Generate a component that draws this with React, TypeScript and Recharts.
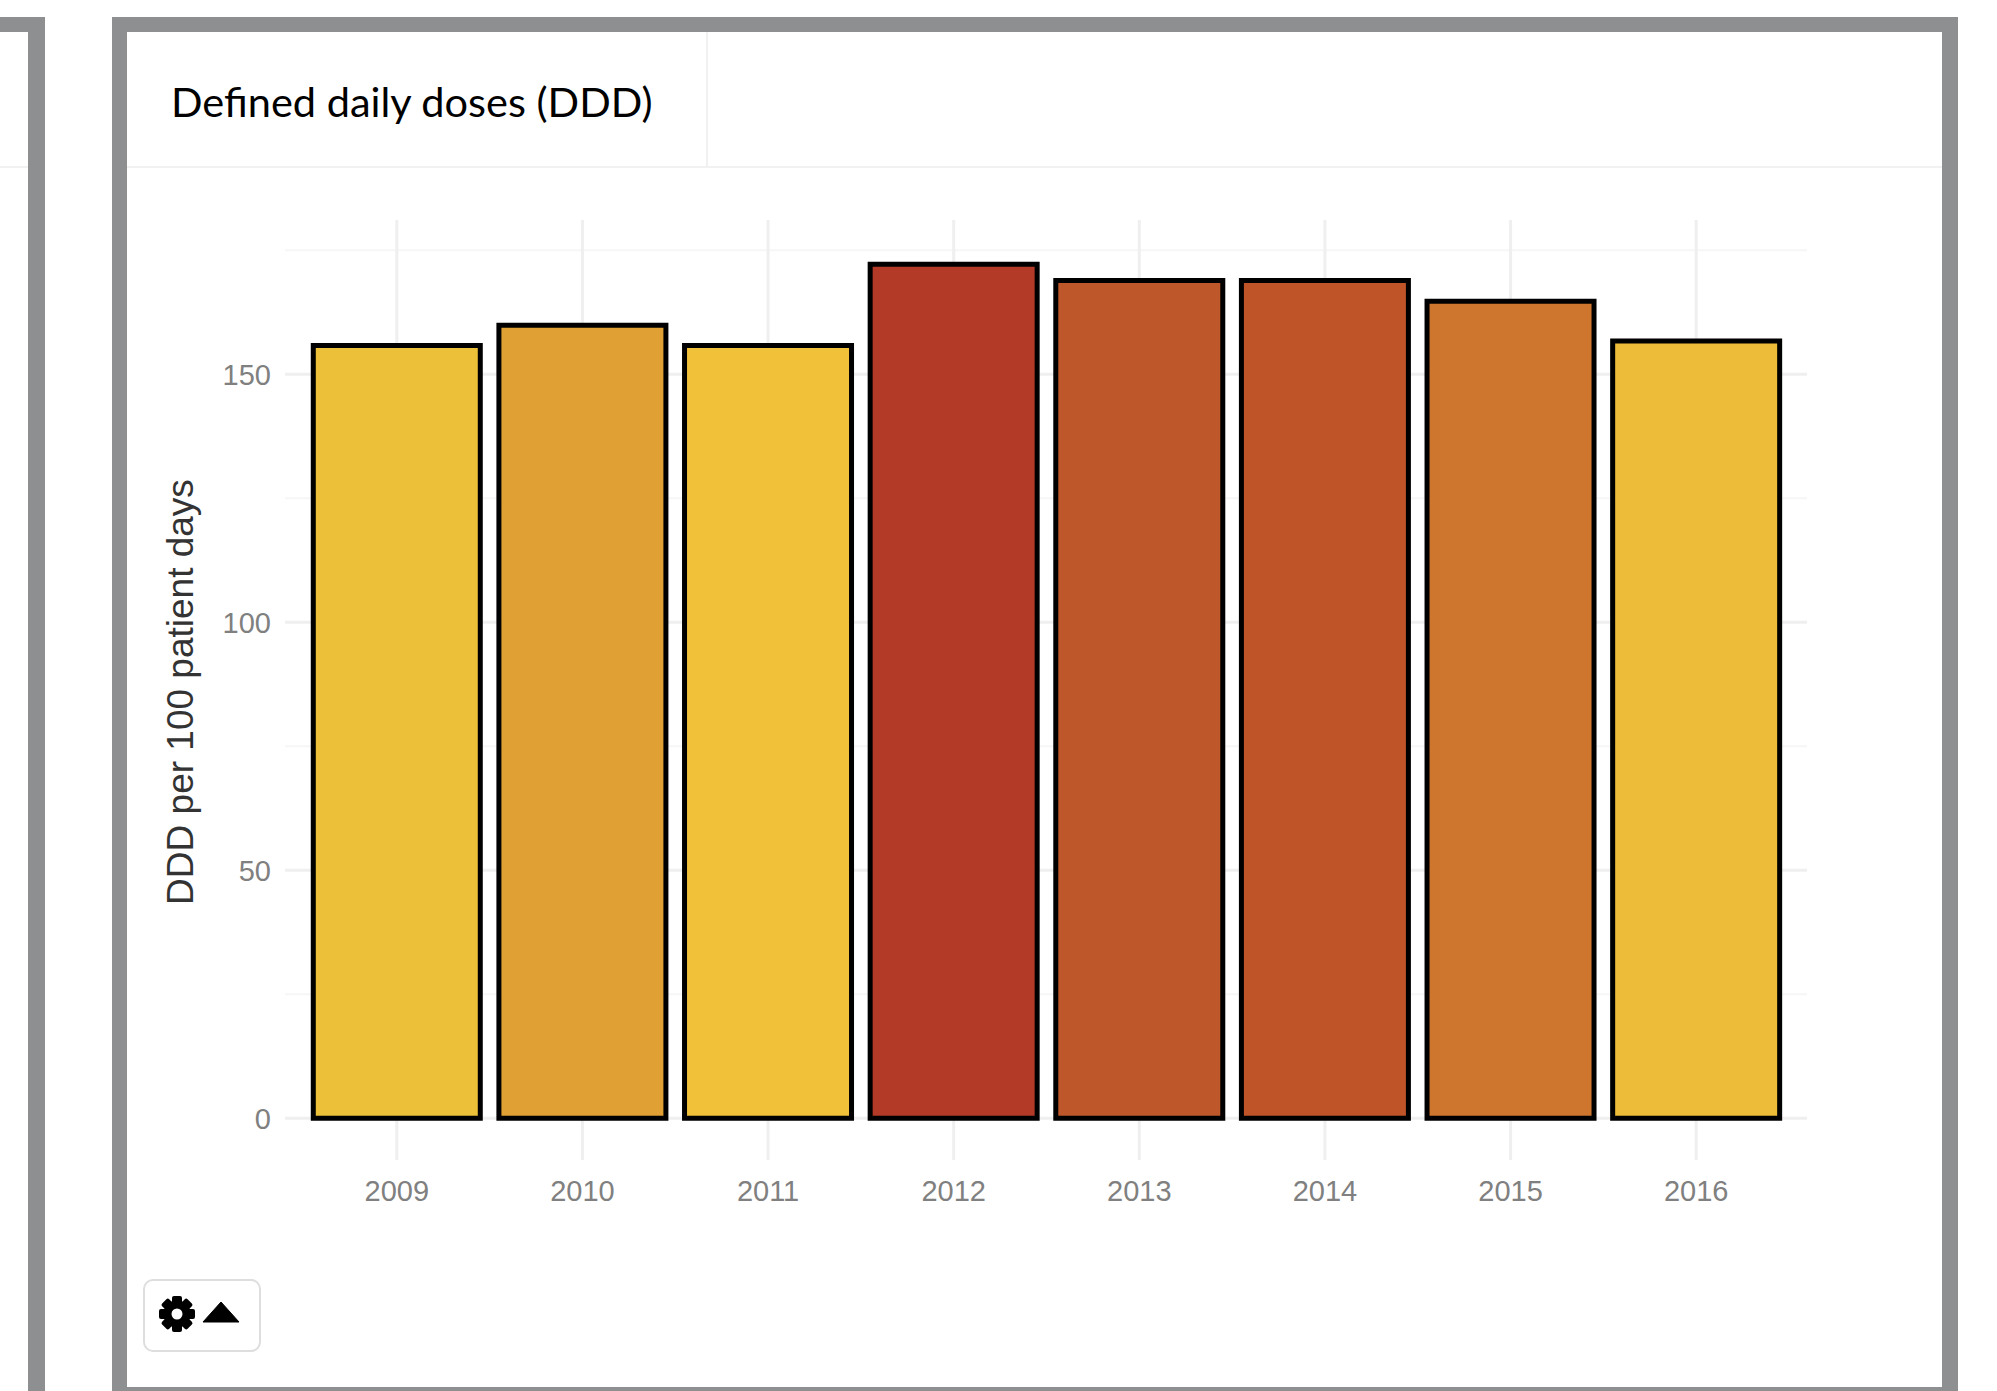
import React from 'react';
import { BarChart, Bar, Cell, XAxis, YAxis, CartesianGrid } from 'recharts';

const years = ['2009', '2010', '2011', '2012', '2013', '2014', '2015', '2016'];
const ddd = [155.8, 159.9, 155.8, 172.2, 168.9, 168.9, 164.7, 156.7];
const barColors = ['#ECC139', '#E0A033', '#F0C139', '#B43A28', '#BE582B', '#BE5428', '#CE752E', '#EDBC38'];
const yTicks = [0, 50, 100, 150];
const minorTicks = [25, 75, 125, 175];

const rows = years.map((year, i) => ({ year, ddd: ddd[i] }));

const FRAME = '#8E8F90';
const gearTeeth = [0, 45, 90, 135, 180, 225, 270, 315];

function Card() {
  return (
    <>
      {/* neighbouring panel, cut off by the page edge */}
      <div style={{ position: 'absolute', left: 0, top: 17, width: 45, height: 1374, background: FRAME }} />
      <div style={{ position: 'absolute', left: 0, top: 32, width: 28, height: 1359, background: '#fff' }} />
      <div style={{ position: 'absolute', left: 0, top: 166, width: 28, height: 2, background: '#F1F1F1' }} />

      {/* main panel */}
      <div style={{ position: 'absolute', left: 112, top: 17, width: 1846, height: 1374, background: FRAME }} />
      <div style={{ position: 'absolute', left: 127, top: 32, width: 1815, height: 1355, background: '#fff' }} />
      <div style={{ position: 'absolute', left: 127, top: 166, width: 1815, height: 2, background: '#F1F1F1' }} />
      <div style={{ position: 'absolute', left: 706, top: 32, width: 2, height: 136, background: '#F1F1F1' }} />
      <div
        style={{
          position: 'absolute',
          left: 171,
          top: 73,
          fontFamily: 'Lato, sans-serif',
          fontSize: 41.5,
          lineHeight: '56px',
          color: '#000',
          whiteSpace: 'nowrap',
        }}
      >
        Defined daily doses (DDD)
      </div>
    </>
  );
}

function SettingsButton() {
  return (
    <div
      style={{
        position: 'absolute',
        left: 143,
        top: 1279,
        width: 118,
        height: 73,
        boxSizing: 'border-box',
        border: '2px solid #DEDEDE',
        borderRadius: 10,
        background: '#fff',
      }}
    >
      <svg width={114} height={69} style={{ display: 'block' }}>
        <g transform="translate(32,33)">
          {gearTeeth.map((a) => (
            <rect key={a} x={-5} y={-18} width={10} height={10} rx={2} fill="#000" transform={`rotate(${a})`} />
          ))}
          <circle r={9.5} fill="#fff" stroke="#000" strokeWidth={8} />
        </g>
        <path d="M58 41 L76 21 L94 41 Z" fill="#000" stroke="#000" strokeWidth={1} strokeLinejoin="round" />
      </svg>
    </div>
  );
}

export default function App() {
  return (
    <div style={{ position: 'absolute', left: 0, top: 0, width: 1997, height: 1391, overflow: 'hidden', background: '#fff' }}>
      <Card />
      <div style={{ position: 'absolute', left: 0, top: 0 }}>
        <BarChart
          width={1997}
          height={1391}
          data={rows}
          barCategoryGap="5%"
          margin={{ top: 220, right: 190, bottom: 131, left: 145 }}
        >
          <CartesianGrid horizontalValues={minorTicks} vertical={false} stroke="#F6F6F6" strokeWidth={2} />
          <CartesianGrid horizontalValues={yTicks} vertical={false} stroke="#EFEFEF" strokeWidth={3} />
          <CartesianGrid horizontal={false} syncWithTicks stroke="#EFEFEF" strokeWidth={3} />
          <XAxis
            dataKey="year"
            height={100}
            padding={{ left: 19, right: 18 }}
            axisLine={false}
            tickLine={false}
            tickMargin={14}
            tick={{ fontFamily: 'Liberation Sans', fontSize: 29, fill: '#808080' }}
          />
          <YAxis
            width={140}
            type="number"
            domain={[-8.4, 181.1]}
            ticks={yTicks}
            axisLine={false}
            tickLine={false}
            tickMargin={8}
            tick={{ fontFamily: 'Liberation Sans', fontSize: 29, fill: '#808080' }}
            label={{
              value: 'DDD per 100 patient days',
              angle: -90,
              position: 'insideLeft',
              offset: 35,
              dy: 2,
              style: { textAnchor: 'middle', fontFamily: 'Liberation Sans', fontSize: 37, fill: '#333333' },
            }}
          />
          <Bar dataKey="ddd" stroke="#000" strokeWidth={5} isAnimationActive={false}>
            {rows.map((row, i) => (
              <Cell key={row.year} fill={barColors[i]} />
            ))}
          </Bar>
        </BarChart>
      </div>
      <SettingsButton />
    </div>
  );
}
